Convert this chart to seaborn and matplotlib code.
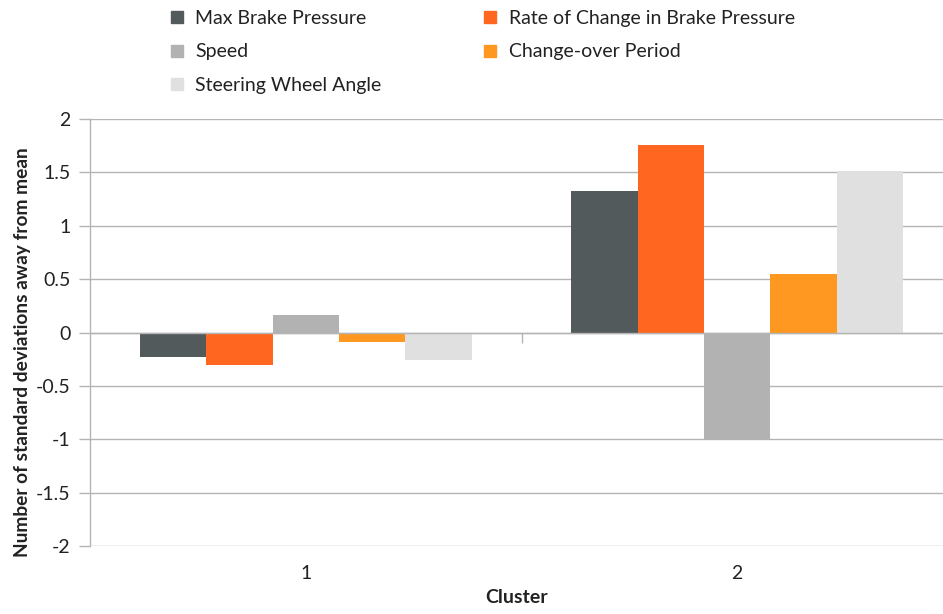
import matplotlib
matplotlib.use("Agg")
import matplotlib.pyplot as plt
from matplotlib.lines import Line2D
import pandas as pd
import seaborn as sns

clusters = ["1", "2"]
variables = [
    "Max Brake Pressure",
    "Rate of Change in Brake Pressure",
    "Speed",
    "Change-over Period",
    "Steering Wheel Angle",
]
cluster1 = [-0.225, -0.30, 0.165, -0.09, -0.255]
cluster2 = [1.325, 1.755, -1.005, 0.545, 1.51]
colors = ["#525A5C", "#FF6620", "#B2B2B2", "#FF9820", "#E0E0E0"]
yticks = [2, 1.5, 1, 0.5, 0, -0.5, -1, -1.5, -2]

rows = []
for name, v1, v2 in zip(variables, cluster1, cluster2):
    rows.append({"Cluster": clusters[0], "Variable": name, "Value": v1})
    rows.append({"Cluster": clusters[1], "Variable": name, "Value": v2})
df = pd.DataFrame(rows)

sns.set_theme(style="white")
plt.rcParams["font.family"] = ["Lato", "DejaVu Sans"]
plt.rcParams["axes.unicode_minus"] = False

W, H = 943, 614
fig = plt.figure(figsize=(W / 100, H / 100), dpi=100)
ax = fig.add_axes([90 / W, 1 - 546 / H, (943 - 90) / W, (546 - 119) / H])

grid_col = "#B4B4B4"
text_col = "#222222"
sns.barplot(
    data=df, x="Cluster", y="Value", hue="Variable",
    order=clusters, hue_order=variables, palette=colors,
    saturation=1, width=0.77, gap=0, linewidth=0, errorbar=None,
    legend=False, ax=ax,
)

ax.set_ylim(-2, 2)
ax.set_xlim(-0.5, 1.5 - 10 / 431.5)
ax.set_yticks(yticks)
ax.set_yticklabels([f"{t:g}" for t in yticks], fontsize=14, color=text_col)
ax.yaxis.grid(True, color=grid_col, linewidth=1)
ax.set_axisbelow(True)
ax.tick_params(axis="y", length=8, width=1, color=grid_col, pad=6, left=True)

for s in ["top", "right"]:
    ax.spines[s].set_visible(False)
ax.spines["left"].set_color(grid_col)
ax.spines["left"].set_linewidth(1)

# horizontal axis crosses at zero, with ticks between the categories
ax.spines["bottom"].set_position(("data", 0))
ax.spines["bottom"].set_color(grid_col)
ax.spines["bottom"].set_linewidth(1)
ax.set_xticks([0.5], minor=True)
ax.tick_params(axis="x", which="minor", length=7, width=1, color=grid_col,
               direction="out", bottom=True)
ax.tick_params(axis="x", which="major", length=0, labelbottom=False)
ax.set_xlabel("")

# category names below the plot area
cat_axis = ax.secondary_xaxis("bottom")
cat_axis.spines["bottom"].set_visible(False)
cat_axis.set_xticks(range(len(clusters)))
cat_axis.set_xticklabels(clusters)
cat_axis.tick_params(axis="x", length=0, pad=14, labelsize=14, labelcolor=text_col)
cat_axis.set_xlabel("Cluster", fontsize=14, fontweight="bold", labelpad=5,
                    color=text_col)

ax.set_ylabel("Number of standard deviations away from mean",
              fontsize=13.8, fontweight="bold", color=text_col)
ax.yaxis.set_label_coords(-(90 - 31) / (943 - 90), (546 - 352) / (546 - 119))

handles = [Line2D([], [], marker="s", linestyle="none", markersize=9,
                  markerfacecolor=c, markeredgecolor=c) for c in colors]
order = [0, 2, 4, 1, 3]
fig.legend(
    [handles[i] for i in order], [variables[i] for i in order],
    loc="upper left", bbox_to_anchor=(163 / W, 1 - 6 / H),
    ncol=2, frameon=False, fontsize=14, handlelength=1.0,
    handletextpad=0.45, columnspacing=5.1, labelspacing=0.85,
    borderaxespad=0, borderpad=0.2, labelcolor=text_col,
)

fig.savefig("out.png", dpi=100)
